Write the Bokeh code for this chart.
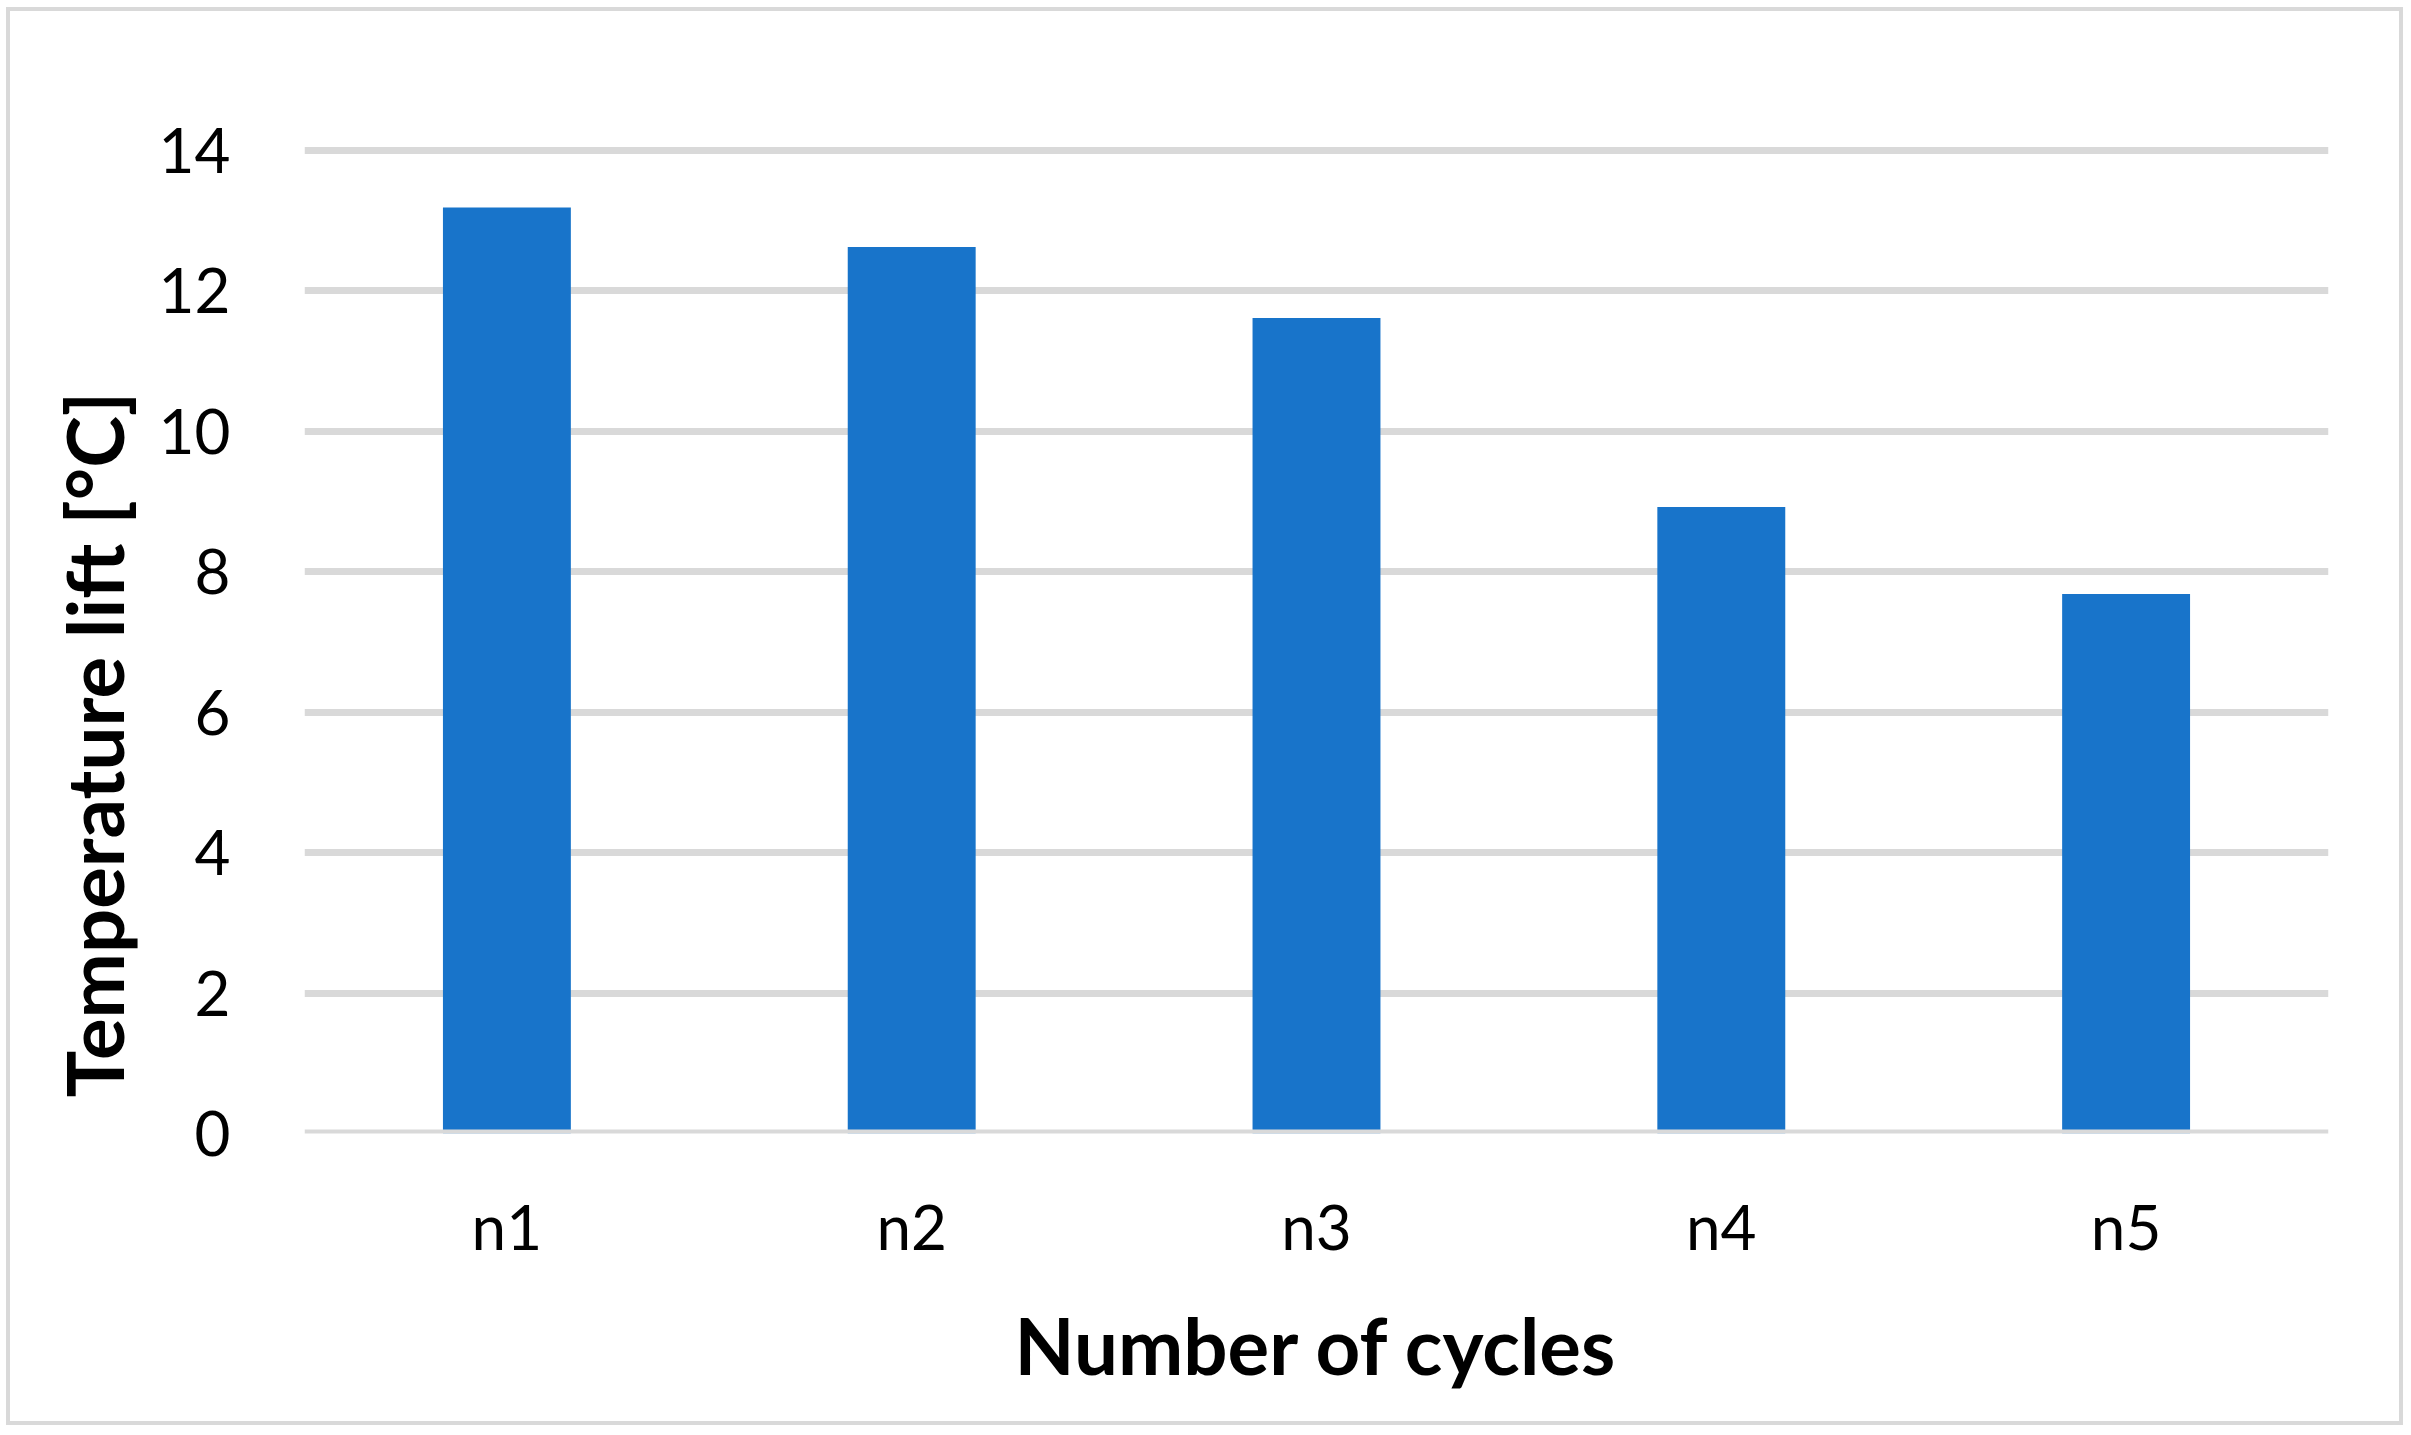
from bokeh.plotting import figure
from bokeh.models import ColumnDataSource, FactorRange, Range1d, FixedTicker, Title, Span
from bokeh.embed import file_html
from bokeh.resources import INLINE

categories = ["n1", "n2", "n3", "n4", "n5"]
values = [13.18, 12.62, 11.61, 8.92, 7.68]
y_ticks = [0, 2, 4, 6, 8, 10, 12, 14]

x_title = "Number of cycles"
y_title = "Temperature lift [°C]"

FONT = "Lato"
BAR = "#1874CA"
GRID = "#D9D9D9"

src = ColumnDataSource(dict(cat=categories, val=values))

p = figure(
    width=2397, height=1418,
    x_range=FactorRange(*categories, range_padding=0),
    y_range=Range1d(0, 14.05),
    output_backend="svg", toolbar_location=None,
    min_border_left=294, min_border_right=79, min_border_top=135, min_border_bottom=296,
)
p.styles = {"border": "4px solid #D9D9D9", "margin-left": "6px", "margin-top": "7px"}
p.outline_line_color = None
p.background_fill_color = "white"
p.border_fill_color = "white"

p.vbar(x="cat", top="val", bottom=0, width=0.316, source=src, color=BAR, line_color=None)

zero = Span(location=0, dimension="width", line_color=GRID, line_width=8, level="overlay")
p.add_layout(zero)

p.xgrid.grid_line_color = None
p.ygrid.grid_line_color = GRID
p.ygrid.grid_line_width = 7
p.ygrid.ticker = FixedTicker(ticks=y_ticks)

p.yaxis.ticker = FixedTicker(ticks=y_ticks)
for ax in (p.xaxis[0], p.yaxis[0]):
    ax.axis_line_color = None
    ax.major_tick_line_color = None
    ax.minor_tick_line_color = None
    ax.major_label_text_font = FONT
    ax.major_label_text_font_size = "62px"
    ax.major_label_text_color = "black"

p.yaxis.major_label_standoff = 68
p.xaxis.major_label_standoff = 49

p.xaxis.axis_label = x_title
p.xaxis.axis_label_text_font = FONT
p.xaxis.axis_label_text_font_style = "bold"
p.xaxis.axis_label_text_font_size = "78px"
p.xaxis.axis_label_text_color = "black"
p.xaxis.axis_label_standoff = 32

yt = Title(text=y_title, align="left", offset=36, text_font=FONT, text_font_style="bold",
           text_font_size="78px", text_color="black", standoff=30)
p.add_layout(yt, "left")

open("out.html", "w").write(file_html(p, INLINE))
